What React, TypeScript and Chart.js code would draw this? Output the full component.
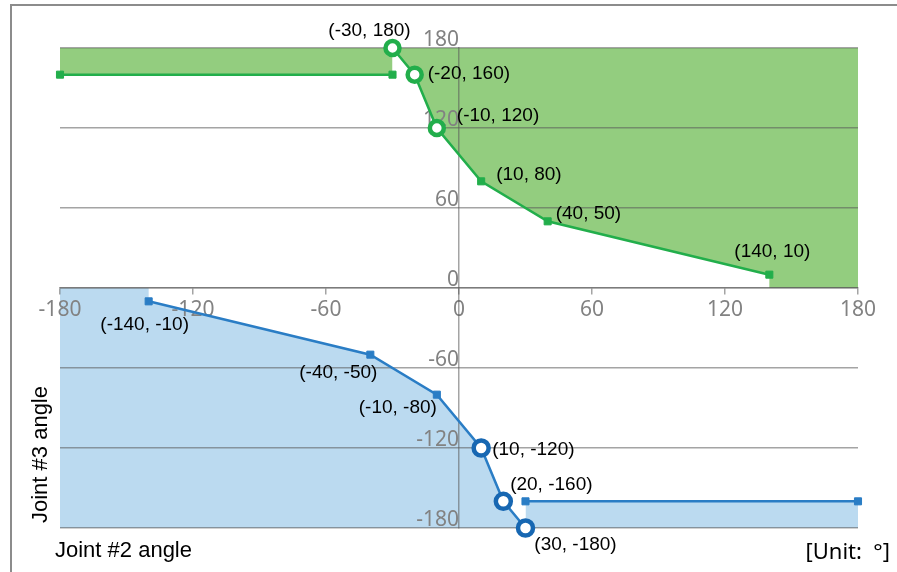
import React, { useEffect, useRef } from 'react';
import { Chart, registerables } from 'chart.js';

Chart.register(...registerables);

// ---- data ----
const greenFlatX = [-180, -30];
const greenFlatY = [160, 160];
const greenCurveX = [-30, -20, -10, 10, 40, 140];
const greenCurveY = [180, 160, 120, 80, 50, 10];
const greenCornerX = [140, 180];
const greenCornerY = [0, 0];

const blueCornerX = [-180, -140];
const blueCornerY = [0, 0];
const blueCurveX = [-140, -40, -10, 10, 20, 30];
const blueCurveY = [-10, -50, -80, -120, -160, -180];
const blueFlatX = [30, 180];
const blueFlatY = [-160, -160];

const xTickValues = [-180, -120, -60, 0, 60, 120, 180];
const yTickValues = [-180, -120, -60, 0, 60, 120, 180];

const greenCircle = [true, true, true, false, false, false];
const blueCircle = [false, false, false, true, true, true];

const xTitle = 'Joint #2 angle';
const yTitle = 'Joint #3 angle';
const unitText = '[Unit:  \u00b0]';

// ---- styles ----
const GREEN = '#22AE4B';
const GREEN_FILL = '#93CD7F';
const BLUE = '#2A7DC5';
const BLUE_DARK = '#1767B2';
const BLUE_FILL = '#BBDAF0';
const GRID = 'rgba(90,90,90,0.55)';
const TICK = '#828282';
const NONE = 'rgba(0,0,0,0)';

// label offsets in px: [dx, dy, align]
const greenLabelPos: [number, number, CanvasTextAlign][] = [
  [-23, -17, 'center'],
  [13, -1, 'left'],
  [20, -12, 'left'],
  [15, -7, 'left'],
  [8, -8, 'left'],
  [3, -23, 'center'],
];
const blueLabelPos: [number, number, CanvasTextAlign][] = [
  [-4, 23, 'center'],
  [-32, 18, 'center'],
  [-39, 13, 'center'],
  [11, 2, 'left'],
  [48, -17, 'center'],
  [50, 17, 'center'],
];

const pts = (xs: number[], ys: number[]) => xs.map((x, i) => ({ x, y: ys[i] }));

export default function App() {
  const ref = useRef<HTMLCanvasElement | null>(null);

  useEffect(() => {
    if (!ref.current) return;

    const annot = {
      id: 'annot',
      afterDatasetsDraw(chart: any) {
        const ctx = chart.ctx as CanvasRenderingContext2D;
        ctx.save();
        ctx.font = '19px "Liberation Sans", Arial, sans-serif';
        ctx.fillStyle = '#000';
        ctx.textBaseline = 'middle';
        const sets = [
          { index: 1, xs: greenCurveX, ys: greenCurveY, pos: greenLabelPos },
          { index: 4, xs: blueCurveX, ys: blueCurveY, pos: blueLabelPos },
        ];
        sets.forEach(({ index, xs, ys, pos }) => {
          const meta = chart.getDatasetMeta(index);
          meta.data.forEach((el: any, i: number) => {
            const [dx, dy, align] = pos[i];
            ctx.textAlign = align;
            ctx.fillText(`(${xs[i]}, ${ys[i]})`, el.x + dx, el.y + dy);
          });
        });
        ctx.restore();
      },
      afterDraw(chart: any) {
        const ctx = chart.ctx as CanvasRenderingContext2D;
        ctx.save();
        // frame
        ctx.strokeStyle = '#8c8c8c';
        ctx.lineWidth = 2;
        ctx.beginPath();
        ctx.moveTo(11, 572);
        ctx.lineTo(11, 5);
        ctx.lineTo(897, 5);
        ctx.stroke();
        // titles
        ctx.fillStyle = '#000';
        ctx.font = '22px "Liberation Sans", Arial, sans-serif';
        ctx.textBaseline = 'alphabetic';
        ctx.textAlign = 'left';
        ctx.fillText(xTitle, 55, 557);
        ctx.save();
        ctx.translate(47, 523);
        ctx.rotate(-Math.PI / 2);
        ctx.fillText(yTitle, 0, 0);
        ctx.restore();
        ctx.font = '22px "Noto Sans", sans-serif';
        ctx.textAlign = 'right';
        ctx.fillText(unitText, 890, 559);
        ctx.restore();
      },
    };

    const chart = new Chart(ref.current, {
      type: 'line',
      data: {
        datasets: [
          {
            // 0: green flat segment
            data: pts(greenFlatX, greenFlatY),
            borderColor: GREEN,
            borderWidth: 2.5,
            backgroundColor: GREEN_FILL,
            fill: 'end',
            pointStyle: 'rect',
            pointRadius: 5,
            pointBackgroundColor: GREEN,
            pointBorderColor: GREEN,
            pointBorderWidth: 1,
            clip: false,
            order: 2,
          },
          {
            // 1: green curve (line + points)
            data: pts(greenCurveX, greenCurveY),
            borderColor: GREEN,
            borderWidth: 2.5,
            fill: false,
            pointStyle: greenCircle.map((c) => (c ? 'circle' : 'rect')),
            pointRadius: greenCircle.map((c) => (c ? 7 : 5)),
            pointBackgroundColor: greenCircle.map((c) => (c ? '#fff' : GREEN)),
            pointBorderColor: GREEN,
            pointBorderWidth: greenCircle.map((c) => (c ? 4.5 : 1)),
            clip: false,
            order: 1,
          },
          {
            // 2: green area (curve + corner)
            data: pts(greenCurveX.concat(greenCornerX), greenCurveY.concat(greenCornerY)),
            borderColor: NONE,
            borderWidth: 1,
            backgroundColor: GREEN_FILL,
            fill: 'end',
            pointRadius: 0,
            order: 3,
          },
          {
            // 3: blue area (corner + curve)
            data: pts(blueCornerX.concat(blueCurveX), blueCornerY.concat(blueCurveY)),
            borderColor: NONE,
            borderWidth: 1,
            backgroundColor: BLUE_FILL,
            fill: 'start',
            pointRadius: 0,
            order: 3,
          },
          {
            // 4: blue curve (line + points)
            data: pts(blueCurveX, blueCurveY),
            borderColor: BLUE,
            borderWidth: 2.5,
            fill: false,
            pointStyle: blueCircle.map((c) => (c ? 'circle' : 'rect')),
            pointRadius: blueCircle.map((c) => (c ? 7.5 : 5)),
            pointBackgroundColor: blueCircle.map((c) => (c ? '#fff' : BLUE)),
            pointBorderColor: blueCircle.map((c) => (c ? BLUE_DARK : BLUE)),
            pointBorderWidth: blueCircle.map((c) => (c ? 4.5 : 1)),
            clip: false,
            order: 1,
          },
          {
            // 5: blue flat segment
            data: pts(blueFlatX, blueFlatY),
            borderColor: BLUE,
            borderWidth: 2.5,
            backgroundColor: BLUE_FILL,
            fill: 'start',
            pointStyle: 'rect',
            pointRadius: 5,
            pointBackgroundColor: BLUE,
            pointBorderColor: BLUE,
            pointBorderWidth: 1,
            clip: false,
            order: 2,
          },
        ],
      },
      options: {
        responsive: false,
        animation: false,
        events: [],
        layout: { padding: { left: 60, right: 39, top: 48, bottom: 44 } },
        plugins: {
          legend: { display: false },
          tooltip: { enabled: false },
          filler: { drawTime: 'beforeDraw' },
        },
        scales: {
          x: {
            type: 'linear',
            min: -180,
            max: 180,
            position: { y: 0 } as any,
            afterBuildTicks: (s: any) => {
              s.ticks = xTickValues.map((v) => ({ value: v }));
            },
            grid: { drawOnChartArea: false, drawTicks: true, tickLength: 6, color: GRID, lineWidth: 1.5 },
            border: { display: true, color: GRID, width: 1.5 },
            ticks: {
              color: TICK,
              font: { family: '"Noto Sans", sans-serif', size: 21 },
              padding: 3,
              maxRotation: 0,
              autoSkip: false,
            },
          },
          y: {
            type: 'linear',
            min: -180,
            max: 180,
            position: { x: 0 } as any,
            afterBuildTicks: (s: any) => {
              s.ticks = yTickValues.map((v) => ({ value: v }));
            },
            grid: { drawTicks: false, color: GRID, lineWidth: 1.5 },
            border: { display: true, color: GRID, width: 1.5 },
            ticks: {
              color: TICK,
              font: { family: '"Noto Sans", sans-serif', size: 21 },
              padding: 3,
              labelOffset: -8,
              autoSkip: false,
            },
          },
        },
      },
      plugins: [annot],
    } as any);

    return () => chart.destroy();
  }, []);

  return (
    <div style={{ position: 'fixed', left: 0, top: 0, width: 897, height: 572, background: '#fff' }}>
      <canvas ref={ref} width={897} height={572} style={{ display: 'block', width: 897, height: 572 }} />
    </div>
  );
}
